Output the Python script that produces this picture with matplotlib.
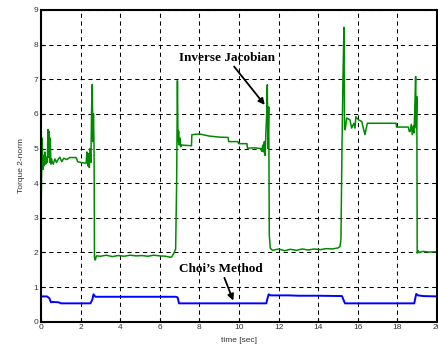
import matplotlib
matplotlib.use('Agg')
import matplotlib.pyplot as plt

# Inverse Jacobian torque norm, read as (time, value) breakpoints
inv_t = [0.0, 0.03, 0.06, 0.1, 0.13, 0.16, 0.2, 0.24, 0.28, 0.32, 0.35, 0.38, 0.41,
         0.44, 0.47, 0.5, 0.53, 0.57, 0.62, 0.7, 0.78, 0.86, 0.95, 1.05, 1.15, 1.3,
         1.45, 1.6, 1.78, 1.85, 2.0, 2.2, 2.28, 2.32, 2.36, 2.4, 2.44, 2.48, 2.52,
         2.56, 2.59, 2.62, 2.65, 2.68, 2.7, 2.74, 2.8, 3.0, 3.3, 3.6, 3.9, 4.2, 4.5,
         4.8, 5.1, 5.4, 5.7, 6.0, 6.3, 6.52, 6.6, 6.72, 6.8, 6.85, 6.89, 6.92, 6.95,
         6.98, 7.02, 7.06, 7.1, 7.6, 7.62, 8.0, 8.5, 9.0, 9.45, 9.48, 9.95, 9.98,
         10.4, 10.43, 10.8, 11.1, 11.15, 11.2, 11.24, 11.28, 11.32, 11.36, 11.4,
         11.43, 11.46, 11.5, 11.53, 11.58, 11.7, 12.0, 12.3, 12.6, 12.9, 13.2,
         13.5, 13.8, 14.1, 14.4, 14.7, 15.0, 15.1, 15.15, 15.2, 15.25, 15.3,
         15.33, 15.36, 15.44, 15.6, 15.69, 15.8, 15.86, 15.9, 16.03, 16.2, 16.36,
         16.48, 17.0, 17.5, 17.93, 17.96, 18.3, 18.55, 18.6, 18.65, 18.7, 18.75,
         18.8, 18.84, 18.88, 18.92, 18.95, 18.98, 19.0, 19.05, 19.1, 19.3, 19.6,
         20.0]
inv_v = [3.2, 4.3, 5.3, 4.4, 4.8, 4.5, 4.9, 4.55, 4.75, 4.6, 5.55, 4.75, 5.5,
         4.6, 5.3, 4.55, 4.7, 4.6, 4.55, 4.7, 4.6, 4.68, 4.75, 4.62, 4.72, 4.68,
         4.74, 4.74, 4.74, 4.62, 4.6, 4.58, 4.58, 4.9, 4.5, 4.85, 4.45, 5.0, 4.6,
         6.3, 6.85, 5.2, 6.0, 5.0, 1.85, 1.78, 1.9, 1.89, 1.92, 1.88, 1.91, 1.89,
         1.92, 1.9, 1.91, 1.89, 1.92, 1.9, 1.89, 1.86, 1.87, 1.99, 2.1, 4.0, 6.96,
         5.2, 5.5, 5.1, 5.3, 5.05, 5.1, 5.08, 5.4, 5.42, 5.36, 5.33, 5.32, 5.2,
         5.2, 5.14, 5.14, 5.01, 5.02, 5.0, 4.92, 5.1, 4.9, 5.2, 4.8, 5.5, 6.0,
         6.84, 5.0, 6.2, 2.5, 2.12, 2.06, 2.1, 2.05, 2.09, 2.06, 2.1, 2.07, 2.1,
         2.08, 2.11, 2.1, 2.13, 2.17, 2.4, 5.0, 7.0, 8.5, 5.6, 5.54, 5.88, 5.83,
         5.59, 5.73, 5.59, 5.92, 5.83, 5.78, 5.4, 5.73, 5.73, 5.73, 5.73, 5.62,
         5.62, 5.62, 5.49, 5.5, 5.7, 5.4, 5.65, 5.45, 6.2, 7.08, 5.6, 6.5, 1.98,
         2.05, 2.0, 2.03, 2.01, 2.02]

# Choi's method torque norm
choi_t = [0.0, 0.3, 0.42, 0.5, 0.55, 0.9, 1.0, 2.5, 2.6, 2.65, 2.75, 6.8, 6.9,
          6.97, 11.38, 11.45, 11.5, 11.6, 12.5, 13.0, 14.0, 15.2, 15.3, 15.35,
          18.85, 18.95, 19.05, 19.3, 20.0]
choi_v = [0.73, 0.73, 0.68, 0.56, 0.57, 0.56, 0.53, 0.53, 0.65, 0.79, 0.72,
          0.72, 0.70, 0.53, 0.53, 0.70, 0.79, 0.76, 0.76, 0.75, 0.75, 0.74,
          0.60, 0.53, 0.53, 0.80, 0.76, 0.74, 0.73]

xticks = list(range(0, 21, 2))
yticks = list(range(0, 10))

fig = plt.figure(figsize=(4.38, 3.48), dpi=100)
ax = fig.add_axes([41 / 438, 1 - 321.7 / 348, 396 / 438, 311.7 / 348])

ax.plot(inv_t, inv_v, color='#008a00', lw=1.1)
ax.plot(choi_t, choi_v, color='#0000ff', lw=1.4)

ax.set_xlim(0, 20)
ax.set_ylim(0, 9)
ax.set_xticks(xticks)
ax.set_yticks(yticks)
ax.grid(True, color='black', linestyle=(0, (4, 3.5)), linewidth=0.75)
ax.tick_params(direction='in', length=3, width=0.8, labelsize=6,
               labelcolor='#333333', pad=2)
for lab in ax.get_xticklabels() + ax.get_yticklabels():
    lab.set_fontfamily('Liberation Sans')
for sp in ax.spines.values():
    sp.set_linewidth(1.5)
    sp.set_color('black')

ax.set_xlabel('time [sec]', fontsize=6, family='Liberation Sans',
              color='#333333', labelpad=4)
ax.set_ylabel('Torque 2-norm', fontsize=6, family='Liberation Sans',
              color='#333333', labelpad=6)

arrow = dict(arrowstyle='-|>', color='black', lw=1.3, mutation_scale=9,
             shrinkA=0, shrinkB=0)
ax.annotate('Inverse Jacobian', xy=(11.3, 6.26), xytext=(9.4, 7.62),
            ha='center', va='center', fontsize=9.5, fontweight='bold',
            family='Liberation Serif', arrowprops=arrow)
ax.annotate('Choi\u2019s Method', xy=(9.71, 0.61), xytext=(9.09, 1.52),
            ha='center', va='center', fontsize=9.5, fontweight='bold',
            family='Liberation Serif', arrowprops=arrow)

fig.savefig('out.png', dpi=100)
